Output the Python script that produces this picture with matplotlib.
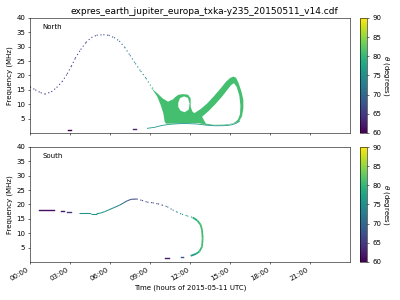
import numpy as np
import matplotlib
matplotlib.use("Agg")
import matplotlib.pyplot as plt
from matplotlib.collections import LineCollection
from matplotlib.colors import Normalize
from matplotlib.cm import ScalarMappable

TITLE = "expres_earth_jupiter_europa_txka-y235_20150511_v14.cdf"

# --- North hemisphere ---
# main arc (hours, MHz, theta deg)
n_arc_t = [0.0, 0.4, 0.8, 1.1, 1.6, 2.0, 2.4, 2.8, 3.1, 3.4, 3.8, 4.2, 4.6, 5.0, 5.5,
           5.9, 6.3, 6.7, 7.1, 7.5, 7.9, 8.3, 8.7, 9.0, 9.3]
n_arc_f = [16.0, 15.0, 14.0, 13.5, 14.3, 15.8, 17.8, 20.6, 23.2, 26.0, 29.0, 31.5, 33.2, 34.0, 34.2,
           34.0, 33.2, 32.0, 29.8, 27.0, 24.2, 21.5, 19.0, 16.8, 15.0]
n_arc_th = [64, 64, 65, 65, 65, 65, 65, 66, 66, 66, 66, 66, 66, 66, 66,
            67, 68, 69, 70, 71, 72, 74, 75, 77, 79]

# low frequency branch
n_low_t = [8.8, 9.3, 9.9, 10.5, 11.5, 12.5, 13.2, 13.8, 14.5, 15.0, 15.4, 15.7]
n_low_f = [1.6, 1.9, 2.6, 3.0, 3.3, 3.1, 2.7, 2.5, 2.5, 2.7, 3.2, 4.0]
n_low_th = 76

# short marks near the bottom: (t0, t1, f, theta)
n_marks = [(2.85, 3.05, 1.0, 60), (7.7, 7.95, 1.3, 63)]

# filled region around 10-13 h
n_blob_t = [9.0, 9.55, 9.95, 10.35, 10.7, 10.95, 11.15, 11.5, 11.85, 12.05, 12.05, 12.2, 12.5, 12.9,
            13.0, 12.9, 12.0, 11.0, 10.2, 10.1, 10.0, 9.8, 9.55, 9.2]
n_blob_f = [16.0, 13.8, 12.0, 10.9, 11.6, 12.7, 13.3, 13.5, 13.3, 12.0, 9.0, 7.3, 6.4, 5.6,
            4.4, 3.4, 3.4, 3.3, 3.2, 3.9, 6.8, 9.7, 12.6, 15.0]
n_hole_t = [11.12, 11.25, 11.55, 11.85, 11.97, 11.9, 11.6, 11.3, 11.12]
n_hole_f = [10.5, 12.1, 12.7, 12.2, 10.2, 8.1, 7.2, 7.7, 9.0]
n_blob_th = 81

# loop 13-16 h
n_loop_out_t = [12.3, 12.8, 13.3, 13.8, 14.3, 14.7, 15.0, 15.25, 15.45, 15.65, 15.85, 16.0, 16.0,
                15.9, 15.7, 15.4, 14.8, 14.0, 13.2, 12.6]
n_loop_out_f = [6.8, 8.3, 10.3, 12.8, 15.5, 17.8, 19.1, 19.6, 19.2, 17.3, 14.5, 11.5, 8.5,
                5.8, 4.1, 3.4, 2.8, 2.6, 2.8, 3.5]
n_loop_in_t = [12.9, 13.4, 13.9, 14.4, 14.8, 15.1, 15.3, 15.5, 15.7, 15.78, 15.75, 15.6, 15.4,
               15.2, 14.6, 13.8, 13.2]
n_loop_in_f = [5.6, 7.6, 10.0, 12.6, 15.0, 16.7, 17.3, 16.0, 13.0, 9.5, 6.5, 4.7, 3.8,
               3.3, 2.9, 2.8, 3.2]

# --- South hemisphere ---
s_marks = [(0.7, 1.8, 18.0, 61), (2.3, 2.55, 17.7, 62), (2.8, 3.1, 17.4, 65),
           (10.1, 10.4, 1.3, 62), (11.3, 11.5, 1.8, 68)]
s_arc_t = [3.7, 4.2, 4.6, 5.0, 5.3, 5.6, 5.9, 6.3, 6.7, 7.0, 7.3, 7.6, 8.0, 8.4, 8.8, 9.2,
           9.6, 9.9, 10.3, 10.7, 11.0, 11.4, 11.8, 12.2, 12.55, 12.8, 12.9, 12.95, 12.9, 12.7,
           12.45, 12.05]
s_arc_f = [16.9, 16.9, 16.8, 16.8, 17.0, 17.5, 18.1, 18.9, 19.7, 20.5, 21.3, 21.8, 21.9, 21.4,
           20.8, 20.6, 20.2, 19.8, 19.2, 18.1, 17.4, 16.6, 16.0, 15.5, 14.4, 12.9, 11.1, 8.2,
           5.3, 3.6, 2.8, 2.1]
s_arc_th = [75, 75, 76, 76, 76, 76, 75, 74, 72, 70, 68, 67, 66, 66, 66, 66,
            66, 67, 69, 72, 74, 75, 76, 78, 80, 81, 81, 81, 81, 80, 78, 75]

hour_ticks = [0, 3, 6, 9, 12, 15, 18, 21]

cmap = plt.get_cmap("viridis")
norm = Normalize(60, 90)

plt.rcParams["font.size"] = 10
fig = plt.figure(figsize=(8, 6), dpi=50)
ax_n = fig.add_axes([0.075, 0.557, 0.8, 0.383])
ax_s = fig.add_axes([0.075, 0.127, 0.8, 0.383])
cax_n = fig.add_axes([0.9, 0.557, 0.018, 0.383])
cax_s = fig.add_axes([0.9, 0.127, 0.018, 0.383])

DOTS = (0, (1.0, 2.4))


def colored_line(ax, t, f, th, ls, lw):
    pts = np.column_stack([t, f])
    segs = np.stack([pts[:-1], pts[1:]], axis=1)
    vals = 0.5 * (np.asarray(th[:-1], float) + np.asarray(th[1:], float))
    lc = LineCollection(segs, cmap=cmap, norm=norm, linestyles=ls, linewidths=lw)
    lc.set_array(vals)
    ax.add_collection(lc)


# North
green = cmap(norm(n_blob_th))
ax_n.fill(n_loop_out_t, n_loop_out_f, color=green, lw=0)
ax_n.fill(n_loop_in_t, n_loop_in_f, color="white", lw=0)
ax_n.fill(n_blob_t, n_blob_f, color=green, lw=0)
ax_n.fill(n_hole_t, n_hole_f, color="white", lw=0)
ax_n.plot(n_low_t, n_low_f, color=cmap(norm(n_low_th)), lw=1.2)
colored_line(ax_n, n_arc_t, n_arc_f, n_arc_th, DOTS, 1.6)
for t0, t1, f, th in n_marks:
    ax_n.plot([t0, t1], [f, f], color=cmap(norm(th)), lw=2)

# South
for t0, t1, f, th in s_marks:
    ax_s.plot([t0, t1], [f, f], color=cmap(norm(th)), lw=2)
n_solid = 12
colored_line(ax_s, s_arc_t[:n_solid + 1], s_arc_f[:n_solid + 1], s_arc_th[:n_solid + 1], "solid", 1.5)
colored_line(ax_s, s_arc_t[n_solid:24], s_arc_f[n_solid:24], s_arc_th[n_solid:24], DOTS, 1.6)
colored_line(ax_s, s_arc_t[23:], s_arc_f[23:], s_arc_th[23:], "solid", 2.6)

for ax, name in [(ax_n, "North"), (ax_s, "South")]:
    ax.set_xlim(0, 24)
    ax.set_ylim(0, 40)
    ax.set_yticks([5, 10, 15, 20, 25, 30, 35, 40])
    ax.set_xticks(hour_ticks)
    ax.set_ylabel("Frequency (MHz)")
    ax.text(0.04, 0.9, name, transform=ax.transAxes)

ax_n.set_xticklabels([])
ax_s.set_xticklabels([f"{h:02d}:00" for h in hour_ticks], rotation=30, ha="right")
ax_s.set_xlabel("Time (hours of 2015-05-11 UTC)")

for cax in (cax_n, cax_s):
    cb = fig.colorbar(ScalarMappable(norm=norm, cmap=cmap), cax=cax)
    cb.set_ticks([60, 65, 70, 75, 80, 85, 90])
    cb.set_label(r"$\theta$ (degrees)", rotation=270, labelpad=14)

fig.text(0.51, 0.963, TITLE, ha="center", va="center", fontsize=13)

fig.savefig("out.png")
